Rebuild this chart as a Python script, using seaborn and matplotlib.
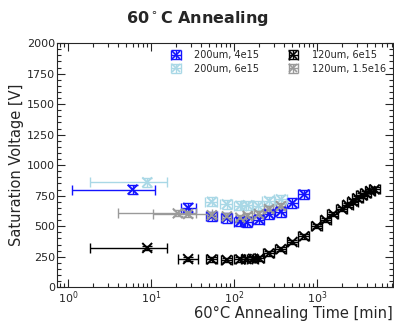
import numpy as np
import pandas as pd
import matplotlib
matplotlib.use("Agg")
import matplotlib.pyplot as plt
from matplotlib.lines import Line2D
from matplotlib.legend_handler import HandlerTuple
from matplotlib.ticker import MultipleLocator
import seaborn as sns

# Annealing time [min] and saturation voltage [V] per sensor
labels = ["200um, 4e15", "200um, 6e15", "120um, 6e15", "120um, 1.5e16"]
colors = ["#1414ff", "#a9d8e6", "#000000", "#9a9a9a"]

t_200_4e15 = [6, 28, 54, 82, 119, 142, 202, 265, 368, 507, 700]
v_200_4e15 = [800, 650, 580, 567, 538, 532, 554, 599, 619, 688, 760]

t_200_6e15 = [9, 54, 82, 119, 146, 196, 265, 368]
v_200_6e15 = [860, 700, 680, 667, 672, 667, 707, 720]

t_120_6e15 = [9, 28, 54, 82, 119, 142, 170, 202, 265, 368, 507, 700,
              994, 1277, 1570, 2010, 2350, 2700, 3100, 3500, 3900, 4400, 4960]
v_120_6e15 = [322, 231, 228, 223, 228, 231, 233, 236, 277, 312, 371, 417,
              500, 551, 599, 640, 675, 702, 728, 752, 769, 788, 801]

t_120_15e16 = [21, 28, 54, 82, 119, 146, 200, 265, 368]
v_120_15e16 = [605, 600, 590, 580, 570, 585, 600, 640, 665]

# time windows of the first (long, room-temperature) steps: (low, high)
twin_200_4e15 = {0: (1.12, 11.1), 1: (22.7, 35)}
twin_200_6e15 = {0: (1.84, 15.8)}
twin_120_6e15 = {0: (1.84, 15.8), 1: (21, 37)}
twin_120_15e16 = {0: (4, 35), 1: (10.5, 55)}

rel_terr = [0.15, 0.17, 0.15, 0.12]
v_err = [40, 36, 18, 25]

series = [
    (t_200_4e15, v_200_4e15, twin_200_4e15),
    (t_200_6e15, v_200_6e15, twin_200_6e15),
    (t_120_6e15, v_120_6e15, twin_120_6e15),
    (t_120_15e16, v_120_15e16, twin_120_15e16),
]

frames = []
for lab, (t, v, _) in zip(labels, series):
    frames.append(pd.DataFrame({"time": t, "vsat": v, "sensor": lab}))
df = pd.concat(frames, ignore_index=True)

sns.set_style("ticks")
plt.rcParams["font.family"] = ["DejaVu Sans"]

fig = plt.figure(figsize=(3.94, 3.22), dpi=100)
ax = fig.add_axes([0.145, 0.108, 0.852, 0.758])

draw_order = [1, 3, 2, 0]
containers = {}
for i in draw_order:
    t, v, twin = series[i]
    t = np.asarray(t, float)
    lo = t * rel_terr[i]
    hi = t * rel_terr[i]
    for k, (a, b) in twin.items():
        lo[k] = t[k] - a
        hi[k] = b - t[k]
    containers[i] = ax.errorbar(t, v, xerr=[lo, hi], yerr=v_err[i], fmt="none",
                                ecolor=colors[i], elinewidth=1.0, capsize=3.5,
                                capthick=1.0, zorder=2 + i * 0.1)

sns.scatterplot(data=df, x="time", y="vsat", hue="sensor", hue_order=labels,
                palette=colors, marker="x", s=50, linewidth=1.4,
                legend=False, ax=ax, zorder=3)

ax.set_xscale("log")
ax.set_xlim(0.74, 8200)
ax.set_ylim(0, 2000)
ax.yaxis.set_major_locator(MultipleLocator(250))
ax.yaxis.set_minor_locator(MultipleLocator(50))
ax.tick_params(which="both", direction="in", top=True, right=True, labelsize=8,
               pad=1.5)
ax.tick_params(which="major", length=6, width=0.8)
ax.tick_params(which="minor", length=3, width=0.8)
for s in ax.spines.values():
    s.set_linewidth(0.8)

ax.set_xlabel("60°C Annealing Time [min]", fontsize=10.5, loc="right", labelpad=0)
ax.set_ylabel("Saturation Voltage [V]", fontsize=10.5, labelpad=2)
fig.suptitle(r"60$^\circ$C Annealing", fontsize=11.5, fontweight="bold", y=0.972)

handles = []
for i in range(4):
    mk = Line2D([], [], marker="x", ls="none", color=colors[i], markersize=6,
                markeredgewidth=1.2)
    handles.append((containers[i], mk))
ax.legend(handles, labels, ncol=2, loc="upper right", fontsize=7, frameon=False,
          handler_map={tuple: HandlerTuple(ndivide=1)},
          handlelength=1.0, columnspacing=3.0, handletextpad=1.4,
          borderaxespad=0.3, labelspacing=0.4)

fig.savefig("out.png", dpi=100)
